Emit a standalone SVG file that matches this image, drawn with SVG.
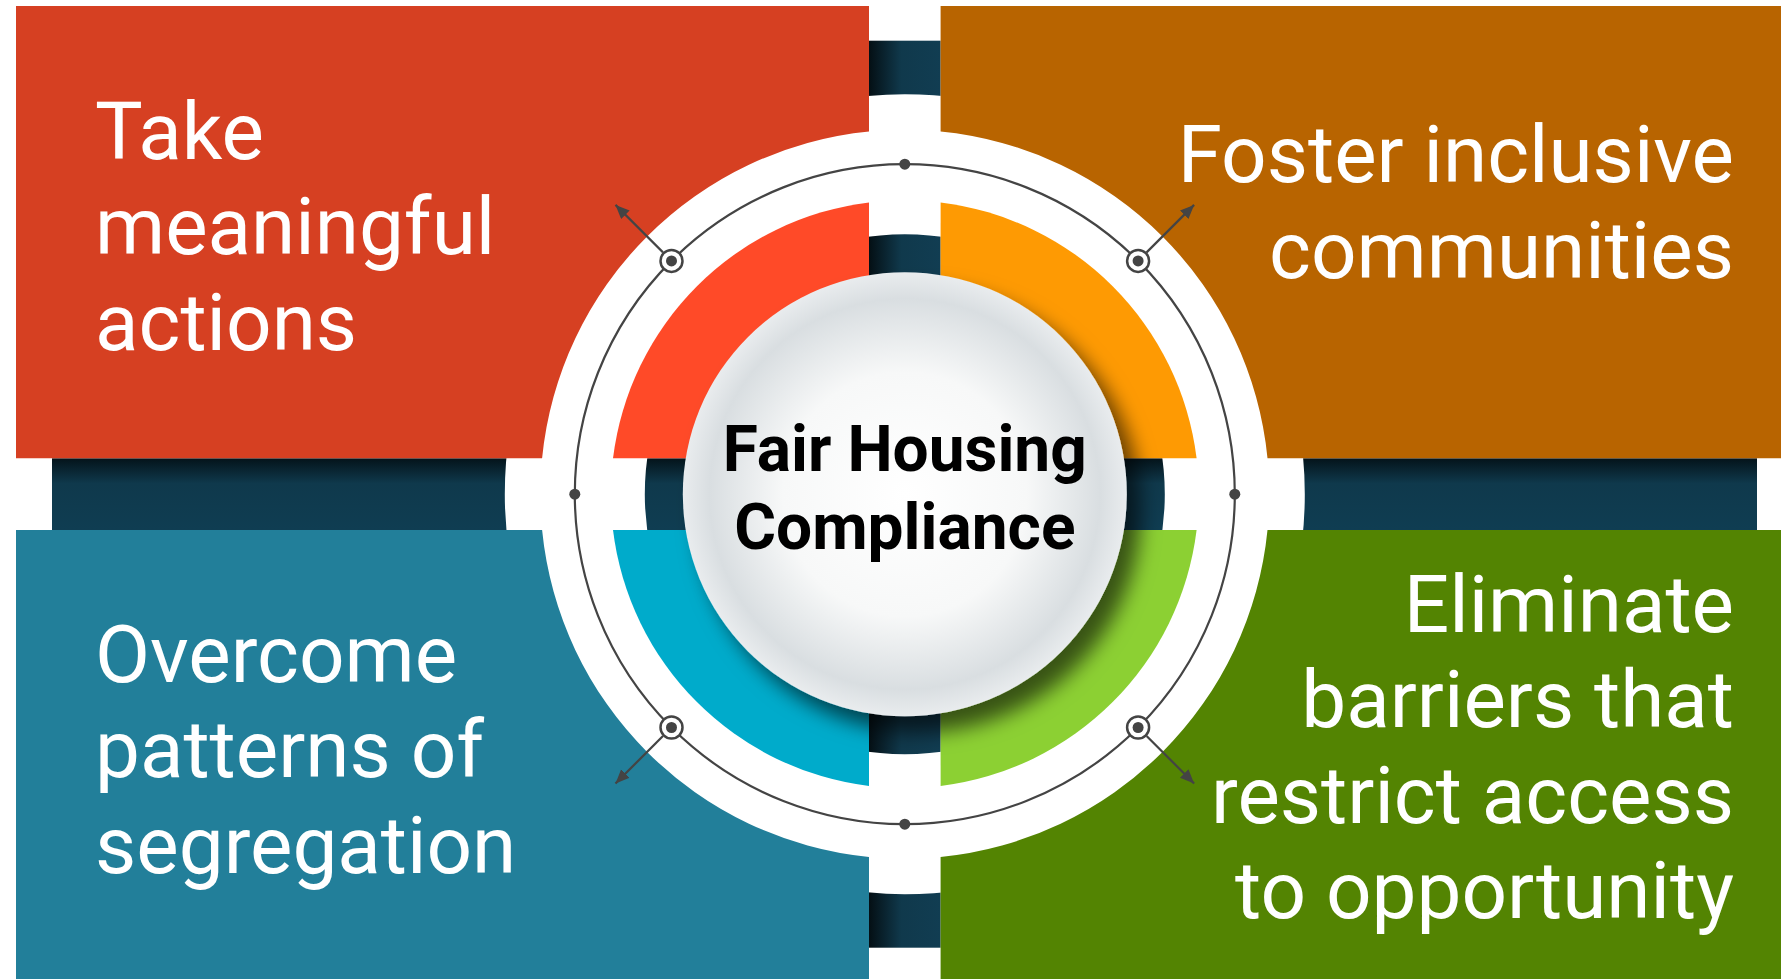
<svg xmlns="http://www.w3.org/2000/svg" width="1781" height="979" viewBox="0 0 1781 979">
  <style>
    .lbl { font-family: Roboto, "Liberation Sans", sans-serif; font-size: 80px; fill: #ffffff; }
    .ctr { font-family: Roboto, "Liberation Sans", sans-serif; font-size: 64px; font-weight: bold; fill: #000000; text-anchor: middle; }
    .ring { fill: none; stroke: #444444; stroke-width: 2.2; }
    .dot { fill: #444444; }
    .mk { fill: #ffffff; stroke: #444444; stroke-width: 2.5; }
    .arr { stroke: #444444; stroke-width: 2.2; fill: none; marker-end: url(#ah); }
  </style>
  <defs>
    <linearGradient id="gh" x1="0" y1="0" x2="0" y2="1">
      <stop offset="0" stop-color="#04131a"/>
      <stop offset="0.35" stop-color="#0f394c"/>
      <stop offset="1" stop-color="#0f3d52"/>
    </linearGradient>
    <linearGradient id="gv" x1="0" y1="0" x2="1" y2="0">
      <stop offset="0" stop-color="#040f14"/>
      <stop offset="0.45" stop-color="#10394c"/>
      <stop offset="1" stop-color="#113d52"/>
    </linearGradient>
    <radialGradient id="gs" cx="0.5" cy="0.5" r="0.5">
      <stop offset="0" stop-color="#ffffff"/>
      <stop offset="0.55" stop-color="#f7f8f8"/>
      <stop offset="0.88" stop-color="#d9dee1"/>
      <stop offset="1" stop-color="#e9ecee"/>
    </radialGradient>
    <filter id="sh" x="-30%" y="-30%" width="160%" height="160%">
      <feGaussianBlur in="SourceAlpha" stdDeviation="10"/>
      <feOffset dx="14" dy="16" result="b"/>
      <feFlood flood-color="#000000" flood-opacity="0.6"/>
      <feComposite in2="b" operator="in"/>
      <feMerge><feMergeNode/><feMergeNode in="SourceGraphic"/></feMerge>
    </filter>
    <marker id="ah" markerUnits="userSpaceOnUse" markerWidth="16" markerHeight="14" refX="14" refY="6" orient="auto">
      <path d="M0,0 L14,6 L0,12 Z" fill="#444444"/>
    </marker>
  </defs>

  <rect width="1781" height="979" fill="#ffffff"/>

  <g id="cross">
    <rect x="52" y="458.3" width="1705" height="71.8" fill="url(#gh)"/>
    <rect x="869" y="40.7" width="71.6" height="907" fill="url(#gv)"/>
    <circle cx="904.8" cy="494.2" r="330" fill="none" stroke="#ffffff" stroke-width="140"/>
  </g>

  <g id="node-tl">
    <path d="M16,6 H869 V131.5 A364.5,364.5 0 0 0 542.1,458.3 H16 Z" fill="#d64022"/>
    <path d="M869,458.3 V202.4 A294,294 0 0 0 613,458.3 Z" fill="#ff4a28"/>
    <text class="lbl" x="95" y="158.7">Take</text>
    <text class="lbl" x="95" y="254">meaningful</text>
    <text class="lbl" x="95" y="349.5">actions</text>
  </g>

  <g id="node-tr">
    <path d="M940.6,6 H1781 V458.3 H1267.5 A364.5,364.5 0 0 0 940.6,131.5 Z" fill="#b86400"/>
    <path d="M940.6,458.3 H1196.6 A294,294 0 0 0 940.6,202.4 Z" fill="#fe9a03"/>
    <text class="lbl" x="1734" y="182.3" text-anchor="end">Foster inclusive</text>
    <text class="lbl" x="1734" y="278.3" text-anchor="end">communities</text>
  </g>

  <g id="node-bl">
    <path d="M16,530.1 H542.1 A364.5,364.5 0 0 0 869,856.9 V979 H16 Z" fill="#227f9a"/>
    <path d="M869,530.1 H613 A294,294 0 0 0 869,786 Z" fill="#00abcb"/>
    <text class="lbl" x="95" y="682">Overcome</text>
    <text class="lbl" x="95" y="777">patterns of</text>
    <text class="lbl" x="95" y="873">segregation</text>
  </g>

  <g id="node-br">
    <path d="M940.6,856.9 A364.5,364.5 0 0 0 1267.5,530.1 H1781 V979 H940.6 Z" fill="#538402"/>
    <path d="M940.6,530.1 V786 A294,294 0 0 0 1196.6,530.1 Z" fill="#8cd033"/>
    <text class="lbl" x="1734" y="632" text-anchor="end">Eliminate</text>
    <text class="lbl" x="1734" y="727" text-anchor="end">barriers that</text>
    <text class="lbl" x="1734" y="823" text-anchor="end">restrict access</text>
    <text class="lbl" x="1734" y="918" text-anchor="end">to opportunity</text>
  </g>

  <g id="connectors">
    <circle class="ring" cx="904.8" cy="494.2" r="330"/>
    <circle class="dot" cx="904.8" cy="164.2" r="5.5"/>
    <circle class="dot" cx="904.8" cy="824.2" r="5.5"/>
    <circle class="dot" cx="574.8" cy="494.2" r="5.5"/>
    <circle class="dot" cx="1234.8" cy="494.2" r="5.5"/>
    <line class="arr" x1="663" y1="252.4" x2="615.5" y2="204.9"/>
    <line class="arr" x1="1146.6" y1="252.4" x2="1194.1" y2="204.9"/>
    <line class="arr" x1="663" y1="736" x2="615.5" y2="783.5"/>
    <line class="arr" x1="1146.6" y1="736" x2="1194.1" y2="783.5"/>
    <circle class="mk" cx="671.5" cy="260.9" r="11"/>
    <circle class="dot" cx="671.5" cy="260.9" r="5.5"/>
    <circle class="mk" cx="1138.1" cy="260.9" r="11"/>
    <circle class="dot" cx="1138.1" cy="260.9" r="5.5"/>
    <circle class="mk" cx="671.5" cy="727.5" r="11"/>
    <circle class="dot" cx="671.5" cy="727.5" r="5.5"/>
    <circle class="mk" cx="1138.1" cy="727.5" r="11"/>
    <circle class="dot" cx="1138.1" cy="727.5" r="5.5"/>
  </g>

  <g id="node-center">
    <circle cx="904.8" cy="494.2" r="222" fill="url(#gs)" filter="url(#sh)"/>
    <text class="ctr" x="904.8" y="471">Fair Housing</text>
    <text class="ctr" x="904.8" y="549">Compliance</text>
  </g>
</svg>
